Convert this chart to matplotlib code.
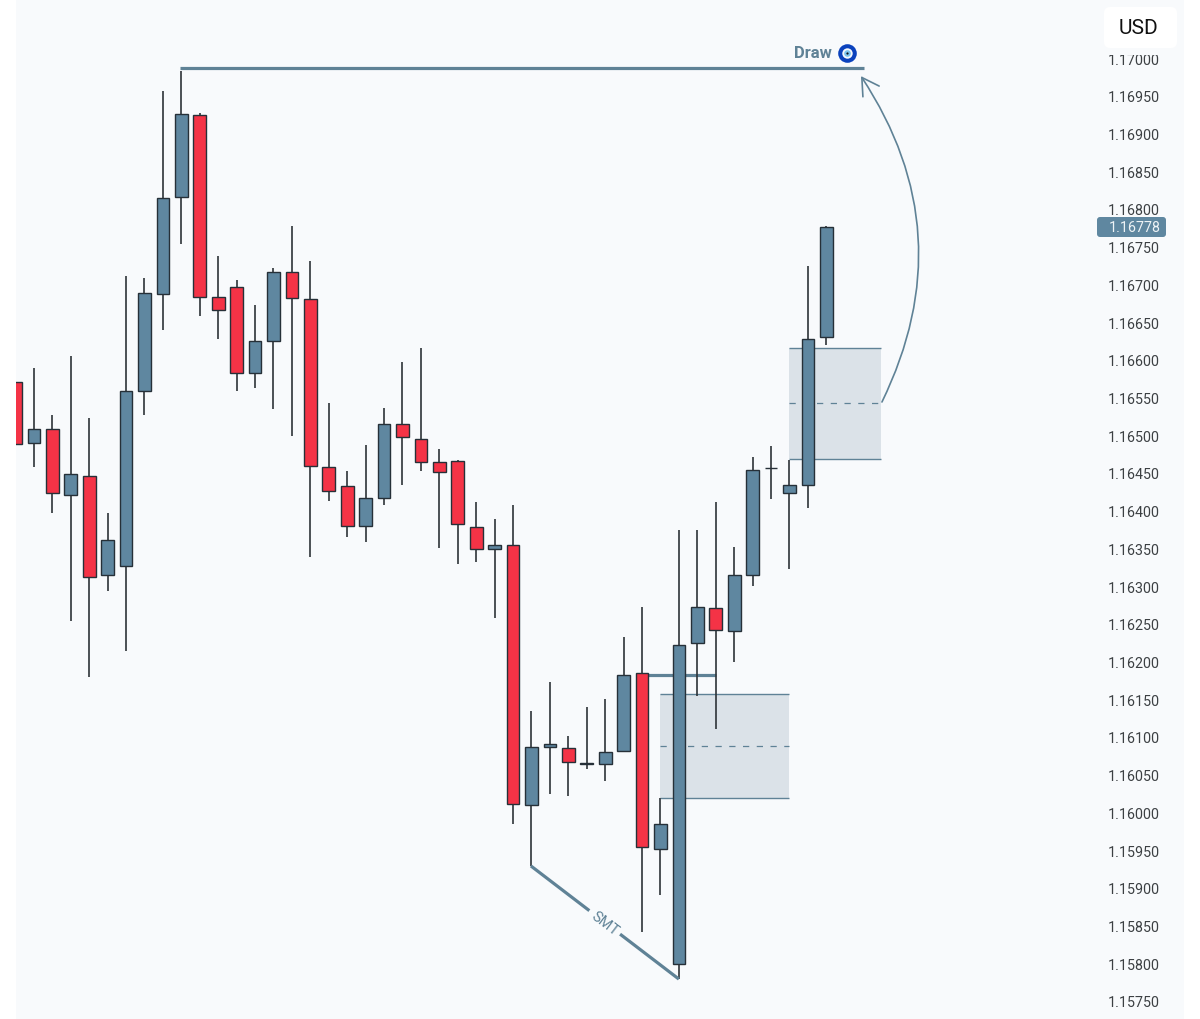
"""Candlestick chart with FVG zones, SMT divergence and a draw-on-liquidity target."""
import matplotlib
matplotlib.use("Agg")
import matplotlib.pyplot as plt
from matplotlib.patches import FancyArrowPatch, FancyBboxPatch, Rectangle
from matplotlib.transforms import IdentityTransform
import numpy as np

# ── Data ──────────────────────────────────────────────────
opens = [1.16573, 1.16492, 1.16510, 1.16423, 1.16448, 1.16317, 1.16329, 1.16561, 1.16689,
         1.16818, 1.16926, 1.16685, 1.16698, 1.16584, 1.16627, 1.16718, 1.16683, 1.16460,
         1.16435, 1.16382, 1.16419, 1.16517, 1.16497, 1.16467, 1.16468, 1.16380, 1.16351,
         1.16356, 1.16012, 1.16089, 1.16087, 1.16067, 1.16066, 1.16083, 1.16187, 1.15954,
         1.15801, 1.16227, 1.16273, 1.16242, 1.16317, 1.16458, 1.16425, 1.16436, 1.16632]
closes = [1.16490, 1.16510, 1.16425, 1.16451, 1.16314, 1.16363, 1.16561, 1.16691, 1.16816,
          1.16928, 1.16685, 1.16668, 1.16584, 1.16627, 1.16718, 1.16684, 1.16461, 1.16428,
          1.16382, 1.16419, 1.16517, 1.16500, 1.16467, 1.16453, 1.16384, 1.16351, 1.16356,
          1.16013, 1.16089, 1.16093, 1.16069, 1.16066, 1.16082, 1.16184, 1.15956, 1.15987,
          1.16224, 1.16274, 1.16244, 1.16317, 1.16456, 1.16459, 1.16436, 1.16630, 1.16778]
highs = [1.16573, 1.16591, 1.16529, 1.16607, 1.16525, 1.16399, 1.16713, 1.16710, 1.16958,
         1.16985, 1.16929, 1.16740, 1.16708, 1.16675, 1.16724, 1.16779, 1.16733, 1.16545,
         1.16455, 1.16489, 1.16538, 1.16599, 1.16618, 1.16484, 1.16469, 1.16413, 1.16391,
         1.16410, 1.16136, 1.16175, 1.16103, 1.16142, 1.16152, 1.16235, 1.16274, 1.16021,
         1.16376, 1.16376, 1.16413, 1.16354, 1.16473, 1.16488, 1.16469, 1.16726, 1.16779]
lows = [1.16490, 1.16460, 1.16399, 1.16256, 1.16182, 1.16295, 1.16216, 1.16529, 1.16641,
        1.16755, 1.16660, 1.16630, 1.16561, 1.16565, 1.16537, 1.16501, 1.16341, 1.16415,
        1.16367, 1.16360, 1.16410, 1.16436, 1.16455, 1.16353, 1.16331, 1.16334, 1.16260,
        1.15987, 1.15931, 1.16026, 1.16024, 1.16060, 1.16044, 1.16082, 1.15844, 1.15893,
        1.15781, 1.16156, 1.16113, 1.16201, 1.16302, 1.16417, 1.16325, 1.16405, 1.16622]

price_ticks = [1.15750, 1.15800, 1.15850, 1.15900, 1.15950, 1.16000, 1.16050, 1.16100, 1.16150,
               1.16200, 1.16250, 1.16300, 1.16350, 1.16400, 1.16450, 1.16500, 1.16550, 1.16600,
               1.16650, 1.16700, 1.16750, 1.16800, 1.16850, 1.16900, 1.16950, 1.17000]
last_price = 1.16778
draw_level = 1.16989
smt_lows = [1.15931, 1.15781]
upper_zone = [1.16470, 1.16618]
lower_zone = [1.16021, 1.16159]
swing_level = 1.16184

# ── Style ─────────────────────────────────────────────────
BG = "#f8fafc"
UP = "#5f87a0"
DOWN = "#f43346"
EDGE = "#263038"
LINE = "#5f8296"
ZONE = "#dbe2e8"
plt.rcParams["font.family"] = ["Roboto", "DejaVu Sans"]

fig = plt.figure(figsize=(12, 10.2), dpi=100, facecolor="white")
ax = fig.add_axes([16 / 1200, 0, (1184 - 16) / 1200, 1])
ax.set_facecolor(BG)
ax.set_xlim(0.03, 63.41)
ax.set_ylim(1.157281, 1.170802)
for s in ax.spines.values():
    s.set_visible(False)
ax.set_xticks([])

ax.yaxis.tick_right()
ax.set_yticks(price_ticks)
ax.set_yticklabels([f"{t:.5f}" for t in price_ticks], va="center")
# pad is in points, labels sit inside the panel
ax.tick_params(axis="y", length=0, pad=-54.7, labelsize=10.3, labelcolor="#3c4043")

# ── Zones (behind the candles) ────────────────────────────
for (lo, hi), (x0, x1) in zip([upper_zone, lower_zone], [(41.97, 46.96), (34.97, 41.97)]):
    ax.fill_between([x0, x1], lo, hi, color=ZONE, lw=0, zorder=1)
    ax.hlines([lo, hi], x0, x1, color=LINE, lw=1.0, zorder=1.2)
    ax.hlines((lo + hi) / 2, x0, x1, color=LINE, lw=0.9, linestyles=(0, (5, 6)), zorder=1.2)

ax.hlines(swing_level, 33.94, 38.01, color=LINE, lw=2.3, zorder=1.5)
ax.hlines(draw_level, 8.93, 46.04, color=LINE, lw=2.3, zorder=1.5)

# ── Candles ───────────────────────────────────────────────
x = np.arange(len(opens))
o = np.array(opens)
c = np.array(closes)
colors = [UP if b >= a else DOWN for a, b in zip(opens, closes)]
ax.vlines(x, lows, highs, color="#2e3338", lw=1.2, zorder=2)
ax.bar(x, np.abs(c - o), bottom=np.minimum(o, c), width=0.69, color=colors,
       edgecolor=EDGE, linewidth=1.0, zorder=3)

# ── Annotations ───────────────────────────────────────────
ax.plot([27.97, 36.0], smt_lows, color=LINE, lw=2.3, zorder=2.5, solid_capstyle="butt")
ax.text(31.97, np.mean(smt_lows), "SMT", color=LINE, fontsize=10.5, rotation=-37.4,
        rotation_mode="anchor", ha="center", va="center", zorder=2.6,
        bbox=dict(facecolor=BG, edgecolor="none", pad=3))

arrow = FancyArrowPatch((47.02, 1.16546), (45.88, 1.16978), connectionstyle="arc3,rad=0.285",
                        arrowstyle="->,head_length=6,head_width=3.5", color=LINE, lw=1.2,
                        mutation_scale=2, zorder=4, shrinkA=0, shrinkB=0)
ax.add_patch(arrow)

ax.text(43.27, 1.17009, "Draw", color=LINE, fontsize=12, fontweight="bold",
        ha="center", va="center", zorder=4)
for size, col in zip([13.4, 7.5, 4.8, 1.6], ["#0b42bd", "#f4f8fc", "#7cc4ee", "#10131a"]):
    ax.plot([45.1], [1.17009], "o", ms=size, mfc=col, mec="none", zorder=4)

# ── Price scale extras ────────────────────────────────────
ax.add_patch(FancyBboxPatch((1097, 1020 - 238), 69, 20, boxstyle="round,pad=0,rounding_size=3",
                            fc=UP, ec="none", transform=IdentityTransform(), zorder=5))
ax.annotate("1.16778", xy=(1, last_price), xycoords=("axes fraction", "data"),
            xytext=(-75, 0), textcoords="offset pixels", ha="left", va="center",
            color="#eef3f6", fontsize=10.3, zorder=6)

# the USD button sits over the top of the scale and trims the first label
fig.patches.append(Rectangle((1100, 1020 - 56), 80, 7, fc=BG, ec="none",
                             transform=IdentityTransform(), zorder=6))
fig.patches.append(FancyBboxPatch((1104, 1020 - 49), 73, 41, boxstyle="round,pad=0,rounding_size=6",
                                  fc="white", ec="none", transform=IdentityTransform(), zorder=7))
fig.text(1138 / 1200, 1 - 28 / 1020, "USD", fontsize=15, color="#111111",
         ha="center", va="center", zorder=8)

fig.savefig("out.png", dpi=100, facecolor="white")
